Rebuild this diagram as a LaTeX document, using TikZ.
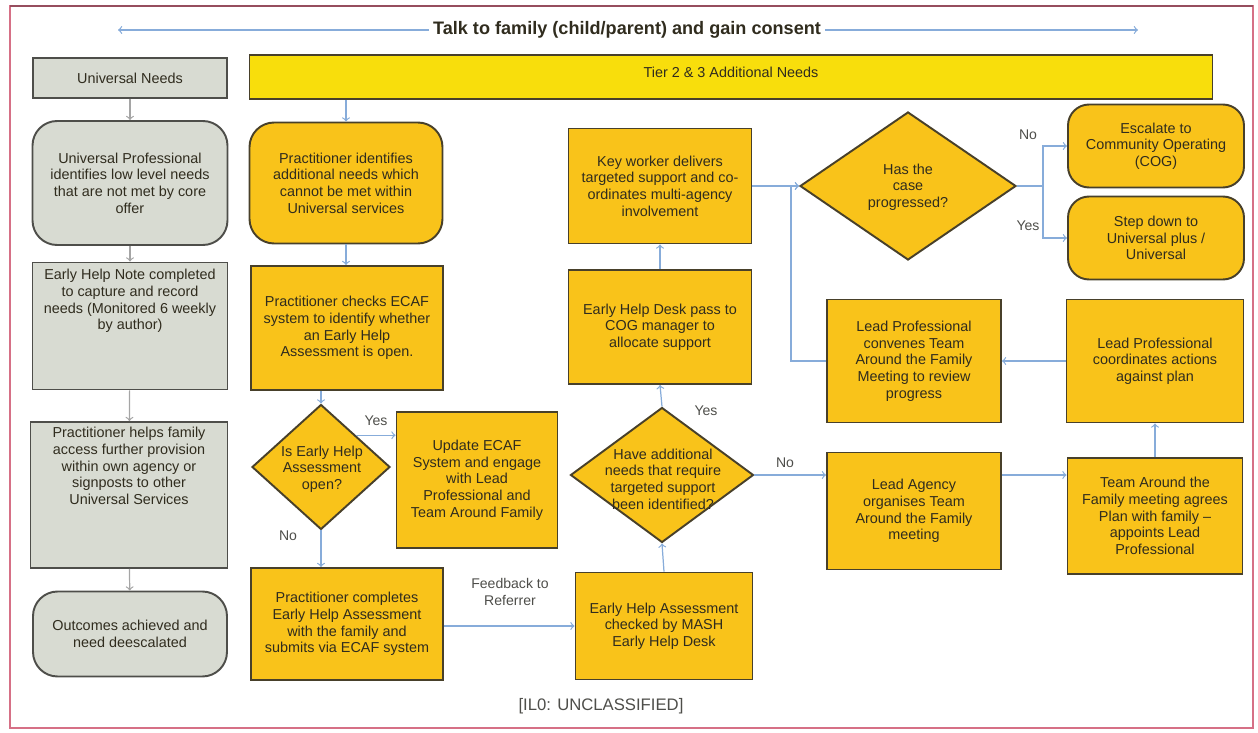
\documentclass[tikz,border=0pt]{standalone}
\usepackage{fontspec}
\setmainfont{Liberation Sans}
\usepackage{xcolor}
\usepackage{tikz}
\usetikzlibrary{shapes.geometric}

\definecolor{tieryellow}{RGB}{248,222,12}
\definecolor{boxorange}{RGB}{249,195,26}
\definecolor{boxgrey}{RGB}{216,219,210}
\definecolor{boxline}{RGB}{72,64,42}
\definecolor{greyline}{RGB}{78,78,74}
\definecolor{flowblue}{RGB}{135,172,218}
\definecolor{flowgrey}{RGB}{165,165,165}
\definecolor{inkdark}{RGB}{48,44,30}
\definecolor{framered}{RGB}{214,112,134}

\newcommand{\flowfont}{\fontsize{8.2}{9.5}\selectfont}

\tikzset{
  wh/.style 2 args={minimum width=#1*0.02cm, minimum height=#2*0.02cm},
  orangebox/.style={draw=boxline, line width=1.1pt, fill=boxorange, align=center, text=inkdark, font=\flowfont, inner sep=2pt},
  greybox/.style={draw=greyline, line width=1.1pt, fill=boxgrey, align=center, text=inkdark, font=\flowfont, inner sep=2pt},
  decision/.style={diamond, draw=boxline, line width=1.1pt, fill=boxorange, inner sep=0pt},
  txt/.style={align=center, text=inkdark, font=\flowfont, inner sep=0pt},
  answer/.style={text=greyline, font=\fontsize{8}{9.5}\selectfont, inner sep=0pt, align=center},
  flow/.style={->, draw=flowblue, line width=0.7pt},
  greyflow/.style={->, draw=flowgrey, line width=0.7pt},
}

\begin{document}
\begin{tikzpicture}[x=0.02cm, y=-0.02cm]
    \useasboundingbox (0,0) rectangle (1258,733);
    \draw[framered, line width=1pt] (10,6) rectangle (1253,728);
    \draw[framered!70!black, line width=1.4pt] (10,6) -- (1253,6);

    \node[font=\bfseries\fontsize{10.3}{12}\selectfont, text=inkdark, inner sep=2pt] (consent) at (627,30) {Talk to family (child/parent) and gain consent};
    \coordinate (consentl) at (118,30);
    \coordinate (consentr) at (1138,30);
    \draw[flow] (consent.west) -- (consentl);
    \draw[flow] (consent.east) -- (consentr);

    \node[greybox, wh={194}{40}] (unineeds) at (130,78) {Universal Needs};
    \node[draw=boxline, line width=1.1pt, fill=tieryellow, wh={963}{44}] (tier) at (731,77) {};
    \node[txt] (tiertxt) at (731,72) {Tier 2 \& 3 Additional Needs};

    \node[greybox, rounded corners=14pt, wh={195}{124}] (unipro) at (130,183) {Universal Professional\\identifies low level needs\\that are not met by core\\offer};
    \node[greybox, wh={195}{127}] (ehnote) at (130,326) {};
    \node[txt] (ehnotetxt) at (130,301) {Early Help Note completed\\to capture and record\\needs (Monitored 6 weekly\\by author)};
    \node[greybox, wh={197}{146}] (helps) at (129,495) {};
    \node[txt] (helpstxt) at (129,466) {Practitioner helps family\\access further provision\\within own agency or\\signposts to other\\Universal Services};
    \node[greybox, rounded corners=14pt, wh={194}{85}] (outcomes) at (130,634) {Outcomes achieved and\\need deescalated};

    \node[orangebox, rounded corners=14pt, wh={193}{121}] (identifies) at (346,183) {Practitioner identifies\\additional needs which\\cannot be met within\\Universal services};
    \node[orangebox, wh={192}{124}] (checks) at (347,328) {Practitioner checks ECAF\\system to identify whether\\an Early Help\\Assessment is open.};
    \node[decision, wh={138}{125}] (isopen) at (321,467) {};
    \node[txt] (isopentxt) at (322,469) {Is Early Help\\Assessment\\open?};
    \node[orangebox, wh={161}{136}] (update) at (477,480) {Update ECAF\\System and engage\\with Lead\\Professional and\\Team Around Family};
    \node[orangebox, wh={192}{112}] (completes) at (347,624) {Practitioner completes\\Early Help Assessment\\with the family and\\submits via ECAF system};

    \node[orangebox, wh={177}{107}] (checked) at (664,626) {Early Help Assessment\\checked by MASH\\Early Help Desk};
    \node[decision, wh={183}{135}] (hasneeds) at (662,475) {};
    \node[txt] (hasneedstxt) at (663,479) {Have additional\\needs that require\\targeted support\\been identified?};
    \node[orangebox, wh={183}{114}] (deskpass) at (660,327) {Early Help Desk pass to\\COG manager to\\allocate support};
    \node[orangebox, wh={183}{115}] (keyworker) at (660,186) {Key worker delivers\\targeted support and co-\\ordinates multi-agency\\involvement};

    \node[decision, wh={216}{148}] (progressed) at (908,186) {};
    \node[txt] (progressedtxt) at (908,187) {Has the\\case\\progressed?};
    \node[orangebox, rounded corners=12pt, wh={176}{83}] (escalate) at (1156,146) {Escalate to\\Community Operating\\(COG)};
    \node[orangebox, rounded corners=12pt, wh={176}{83}] (stepdown) at (1156,238) {Step down to\\Universal plus /\\Universal};
    \node[orangebox, wh={174}{123}] (convenes) at (914,361) {Lead Professional\\convenes Team\\Around the Family\\Meeting to review\\progress};
    \node[orangebox, wh={177}{123}] (coordinates) at (1155,361) {Lead Professional\\coordinates actions\\against plan};
    \node[orangebox, wh={174}{117}] (agency) at (914,511) {Lead Agency\\organises Team\\Around the Family\\meeting};
    \node[orangebox, wh={175}{116}] (teamplan) at (1155,516) {Team Around the\\Family meeting agrees\\Plan with family --\\appoints Lead\\Professional};

    \node[text=greyline, font=\fontsize{9.5}{11}\selectfont] (classified) at (601,706) {[IL0: UNCLASSIFIED]};

    \draw[greyflow] (unineeds) -- (unipro);
    \draw[greyflow] (unipro) -- (ehnote);
    \draw[greyflow] (ehnote) -- (helps);
    \draw[greyflow] (helps) -- (outcomes);

    \draw[flow] (identifies.north |- tier.south) -- (identifies.north);
    \draw[flow] (identifies.south) -- (identifies.south |- checks.north);
    \draw[flow] (isopen.north |- checks.south) -- (isopen.north);
    \draw[flow] (isopen.north east) -- (isopen.north east -| update.west);
    \node[answer] (isopenyes) at (376,421) {Yes};
    \draw[flow] (isopen.south) -- (isopen.south |- completes.north);
    \node[answer] (isopenno) at (288,536) {No};
    \draw[flow] (completes.east |- checked.west) -- (checked.west);
    \node[answer] (feedback) at (510,592) {Feedback to\\Referrer};

    \draw[flow] (checked.north) -- (hasneeds.south);
    \draw[flow] (hasneeds.north) -- (deskpass.south);
    \node[answer] (hasneedsyes) at (706,411) {Yes};
    \draw[flow] (deskpass.north) -- (keyworker.south);
    \draw[flow] (keyworker.east) -- (progressed.west);
    \draw[flow] (hasneeds.east) -- (hasneeds.east -| agency.west);
    \node[answer] (hasneedsno) at (785,463) {No};
    \draw[flow] (hasneeds.east -| agency.east) -- (hasneeds.east -| teamplan.west);

    \coordinate (split) at (1043,186);
    \coordinate (merge) at (791,186);
    \draw[flow] (progressed.east) -- (split) |- (escalate.west);
    \draw[flow] (split) |- (stepdown.west);
    \node[answer] (progressedno) at (1028,135) {No};
    \node[answer] (progressedyes) at (1028,226) {Yes};
    \draw[flow] (teamplan.north) -- (coordinates.south);
    \draw[flow] (coordinates.west) -- (convenes.east);
    \draw[flow] (convenes.west) -| (merge) -- (progressed.west);
\end{tikzpicture}
\end{document}
